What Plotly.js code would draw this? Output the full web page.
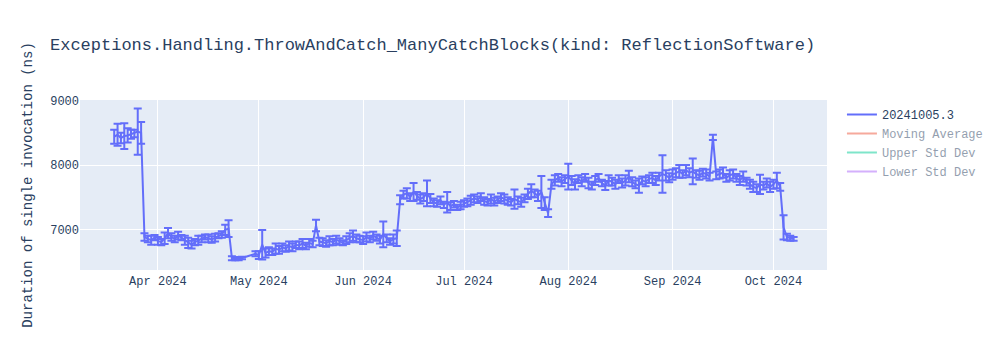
<!DOCTYPE html>
<html>
<head>
<meta charset="utf-8">
<script src="https://cdn.plot.ly/plotly-3.0.1.min.js"></script>
<style>html,body{margin:0;padding:0;background:#fff;}#chart{width:1000px;height:350px;}</style>
</head>
<body>
<div id="chart"></div>
<script>
const dates = [
"2024-03-19","2024-03-20","2024-03-21","2024-03-22","2024-03-23","2024-03-24","2024-03-25","2024-03-26","2024-03-27","2024-03-28","2024-03-29","2024-03-30","2024-03-31",
"2024-04-01","2024-04-02","2024-04-03","2024-04-04","2024-04-05","2024-04-06","2024-04-07","2024-04-08","2024-04-09","2024-04-10","2024-04-11","2024-04-12","2024-04-13","2024-04-14","2024-04-15","2024-04-16","2024-04-17","2024-04-18","2024-04-19","2024-04-20","2024-04-21","2024-04-22","2024-04-23","2024-04-24","2024-04-25","2024-04-26","2024-04-30",
"2024-05-01","2024-05-02","2024-05-03","2024-05-04","2024-05-05","2024-05-06","2024-05-07","2024-05-08","2024-05-09","2024-05-10","2024-05-11","2024-05-12","2024-05-13","2024-05-14","2024-05-15","2024-05-16","2024-05-17","2024-05-18","2024-05-19","2024-05-20","2024-05-21","2024-05-22","2024-05-23","2024-05-24","2024-05-25","2024-05-26","2024-05-27","2024-05-28","2024-05-29","2024-05-30","2024-05-31",
"2024-06-01","2024-06-02","2024-06-03","2024-06-04","2024-06-05","2024-06-06","2024-06-07","2024-06-08","2024-06-09","2024-06-10","2024-06-11","2024-06-12","2024-06-13","2024-06-14","2024-06-15","2024-06-16","2024-06-17","2024-06-18","2024-06-19","2024-06-20","2024-06-21","2024-06-22","2024-06-23","2024-06-24","2024-06-25","2024-06-26","2024-06-27","2024-06-28","2024-06-29","2024-06-30",
"2024-07-01","2024-07-02","2024-07-03","2024-07-04","2024-07-05","2024-07-06","2024-07-07","2024-07-08","2024-07-09","2024-07-10","2024-07-11","2024-07-12","2024-07-13","2024-07-14","2024-07-15","2024-07-16","2024-07-17","2024-07-18","2024-07-19","2024-07-20","2024-07-21","2024-07-22","2024-07-23","2024-07-24","2024-07-25","2024-07-26","2024-07-27","2024-07-28","2024-07-29","2024-07-30","2024-07-31",
"2024-08-01","2024-08-02","2024-08-03","2024-08-04","2024-08-05","2024-08-06","2024-08-07","2024-08-08","2024-08-09","2024-08-10","2024-08-11","2024-08-12","2024-08-13","2024-08-14","2024-08-15","2024-08-16","2024-08-17","2024-08-18","2024-08-19","2024-08-20","2024-08-21","2024-08-22","2024-08-23","2024-08-24","2024-08-25","2024-08-26","2024-08-27","2024-08-28","2024-08-29","2024-08-30","2024-08-31",
"2024-09-01","2024-09-02","2024-09-03","2024-09-04","2024-09-05","2024-09-06","2024-09-07","2024-09-08","2024-09-09","2024-09-10","2024-09-11","2024-09-12","2024-09-13","2024-09-14","2024-09-15","2024-09-16","2024-09-17","2024-09-18","2024-09-19","2024-09-20","2024-09-21","2024-09-22","2024-09-23","2024-09-24","2024-09-25","2024-09-26","2024-09-27","2024-09-28","2024-09-29","2024-09-30",
"2024-10-01","2024-10-02","2024-10-03","2024-10-04","2024-10-05","2024-10-06","2024-10-07"
];
const durations = [
8440,8470,8420,8450,8460,8480,8490,8520,8500,6880,6850,6830,6870,
6820,6800,6860,6940,6880,6850,6900,6870,6830,6790,6760,6800,6830,6850,6880,6860,6840,6870,6900,6920,6990,7010,6550,6540,6545,6555,6620,
6600,6760,6630,6660,6650,6700,6680,6720,6700,6740,6720,6760,6750,6780,6740,6790,6770,7060,6810,6800,6780,6820,6800,6840,6810,6790,6830,6870,6900,6860,6850,
6830,6880,6850,6900,6870,6840,6920,6860,6810,6850,6860,7460,7540,7560,7500,7580,7520,7470,7500,7560,7480,7420,7400,7450,7380,7420,7360,7390,7340,7370,
7400,7420,7450,7480,7460,7500,7440,7420,7470,7430,7460,7500,7470,7440,7420,7470,7450,7420,7480,7550,7600,7560,7520,7580,7400,7250,7700,7760,7800,7740,7780,
7820,7760,7700,7780,7740,7800,7720,7680,7760,7800,7720,7680,7760,7740,7700,7780,7720,7760,7820,7740,7700,7680,7760,7740,7780,7800,7760,7820,7860,7840,7800,
7850,7880,7900,7860,7920,7880,7900,7860,7840,7880,7860,7820,8430,7840,7860,7880,7800,7840,7860,7800,7760,7820,7740,7700,7660,7640,7700,7680,7720,7660,
7700,7760,7660,7030,6880,6860,6850
];
const errors = [
110,170,80,200,110,70,60,360,170,60,50,70,40,
60,50,90,80,60,50,60,40,70,80,60,50,70,50,40,60,50,60,40,50,80,130,30,20,25,20,40,
60,230,70,60,50,80,60,60,50,70,60,50,60,70,50,60,50,90,60,60,50,70,50,60,50,40,60,70,80,60,50,
60,70,50,60,50,60,200,60,50,70,120,70,60,80,60,140,60,70,60,200,70,60,50,60,50,160,60,50,40,60,
50,60,70,60,50,60,60,50,70,60,50,60,70,60,50,150,60,70,60,80,100,60,80,250,100,60,70,80,60,70,60,
200,70,80,60,70,60,80,60,70,60,50,70,80,60,70,60,70,80,90,70,60,110,60,70,60,80,70,60,290,80,70,
80,70,100,60,80,70,200,60,70,60,70,60,40,60,70,80,60,80,70,60,70,80,60,70,80,60,150,60,70,80,
70,120,60,190,50,40,30
];
const seriesName = "20241005.3";
const hiddenNames = ["Moving Average", "Upper Std Dev", "Lower Std Dev"];
const chartTitle = "Exceptions.Handling.ThrowAndCatch_ManyCatchBlocks(kind: ReflectionSoftware)";
const yTitle = "Duration of single invocation (ns)";

const mono = "Courier New, Liberation Mono, monospace";
const traces = [{
  type: "scatter", mode: "lines", name: seriesName,
  x: dates, y: durations,
  error_y: {type: "data", array: errors, visible: true, color: "#636efa", thickness: 2, width: 4},
  line: {color: "#636efa", width: 2}
}];
const hiddenColors = ["#EF553B", "#00cc96", "#ab63fa"];
hiddenNames.forEach((n, i) => traces.push({
  type: "scatter", mode: "lines", name: n, x: dates, y: durations,
  visible: "legendonly", line: {color: hiddenColors[i], width: 2}
}));

const layout = {
  width: 1000, height: 350,
  font: {family: mono, size: 12, color: "#2a3f5f"},
  paper_bgcolor: "#ffffff", plot_bgcolor: "#e5ecf6",
  title: {text: chartTitle, x: 0.05, xanchor: "left", font: {family: mono, size: 17, color: "#2a3f5f"}},
  margin: {l: 80, r: 80, t: 100, b: 80},
  xaxis: {type: "date", range: ["2024-03-08 20:00", "2024-10-16 22:00"], gridcolor: "#ffffff", linecolor: "#ffffff", zeroline: false, tickformat: "%b %Y", dtick: "M1"},
  yaxis: {range: [6367, 9011], gridcolor: "#ffffff", zeroline: false, dtick: 1000, title: {text: yTitle, standoff: 14, font: {family: mono, size: 14}}},
  legend: {font: {family: mono, size: 12}},
  showlegend: true
};
Plotly.newPlot("chart", traces, layout, {displayModeBar: false});
</script>
</body>
</html>
